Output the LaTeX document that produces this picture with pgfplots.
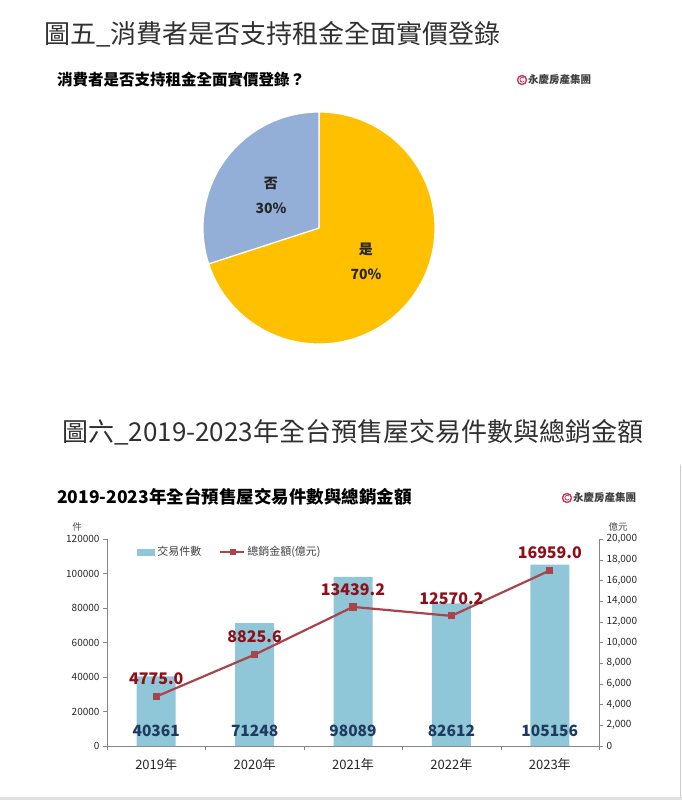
\documentclass[border=0pt]{standalone}
\usepackage{pgfplots}
\pgfplotsset{compat=1.18}
\usepackage{pgfplotstable}
\usepackage{fontspec}
\setmainfont{Noto Sans CJK TC}
\definecolor{pieyellow}{HTML}{FFC000}
\definecolor{pieblue}{HTML}{93AFD7}
\definecolor{barblue}{HTML}{8FC7D8}
\definecolor{linered}{HTML}{A8444A}
\definecolor{lblred}{HTML}{8E0F17}
\definecolor{lblnavy}{HTML}{1F3A5F}
\definecolor{axisgray}{HTML}{868686}
\definecolor{titlegray}{HTML}{303030}
\definecolor{logored}{HTML}{C8385A}

\pgfplotstableread{
x cnt amt amtl
0 40361 4775.0 4775.0
1 71248 8825.6 8825.6
2 98089 13439.2 13439.2
3 82612 12570.2 12570.2
4 105156 16959.0 16959.0
}\sales

\def\pieNo{30}
\def\pieYes{70}

\begin{document}
\begin{tikzpicture}

% ---------- titles ----------
\node[anchor=west, inner sep=0, text=titlegray, font=\fontsize{26}{26}\selectfont] at (44pt,766pt) {圖五\_消費者是否支持租金全面實價登錄};
\node[anchor=west, inner sep=0, text=black, font=\bfseries\fontsize{15.5}{15.5}\selectfont] at (57pt,720pt) {消費者是否支持租金全面實價登錄？};
\draw[logored, line width=1.4pt] (522pt,720pt) circle (4.5pt);
\draw[logored, line width=0.8pt] (524pt,722pt) arc[start angle=45, end angle=315, radius=2.4pt];
\node[anchor=west, inner sep=0, text=black!75, font=\bfseries\fontsize{10.5}{10.5}\selectfont] at (528pt,720pt) {永慶房產集團};

\node[anchor=west, inner sep=0, text=titlegray, font=\fontsize{26}{26}\selectfont] at (62pt,368pt) {圖六\_2019-2023年全台預售屋交易件數與總銷金額};
\node[anchor=west, inner sep=0, text=black, font=\bfseries\fontsize{17.5}{17.5}\selectfont] at (57pt,303pt) {2019-2023年全台預售屋交易件數與總銷金額};
\draw[logored, line width=1.4pt] (567pt,302pt) circle (4.5pt);
\draw[logored, line width=0.8pt] (569pt,304pt) arc[start angle=45, end angle=315, radius=2.4pt];
\node[anchor=west, inner sep=0, text=black!75, font=\bfseries\fontsize{10.5}{10.5}\selectfont] at (573pt,302pt) {永慶房產集團};

% ---------- pie ----------
\pgfmathsetmacro{\aStart}{90}
\pgfmathsetmacro{\aMid}{90+3.6*\pieNo}
\pgfmathsetmacro{\aEnd}{\aMid+3.6*\pieYes}
\begin{axis}[at={(203pt,456pt)}, anchor=south west, scale only axis,
  width=232pt, height=232pt, xmin=-1, xmax=1, ymin=-1, ymax=1, hide axis, clip=false]
  \filldraw[fill=pieyellow, draw=white, line width=1.2pt]
    (axis cs:0,0) -- ([shift={(\aMid:116pt)}]axis cs:0,0)
    arc[start angle=\aMid, end angle=\aEnd, radius=116pt] -- cycle;
  \filldraw[fill=pieblue, draw=white, line width=1.2pt]
    (axis cs:0,0) -- ([shift={(\aStart:116pt)}]axis cs:0,0)
    arc[start angle=\aStart, end angle=\aMid, radius=116pt] -- cycle;
  \node[align=center, text=black!85, font=\bfseries\fontsize{14}{25}\selectfont] at (axis cs:-0.414,0.28) {否\\\pieNo\%};
  \node[align=center, text=black!85, font=\bfseries\fontsize{14}{25}\selectfont] at (axis cs:0.405,-0.29) {是\\\pieYes\%};
\end{axis}

% ---------- bar + line chart ----------
\node[text=black!70, font=\fontsize{9.5}{9.5}\selectfont] at (77pt,273pt) {件};
\node[text=black!70, font=\fontsize{9.5}{9.5}\selectfont] at (618pt,273pt) {億元};

\begin{axis}[at={(107pt,54pt)}, anchor=south west, scale only axis,
  width=492pt, height=207pt,
  xmin=-0.5, xmax=4.5, ymin=0, ymax=120000,
  axis x line*=bottom, axis y line*=left,
  axis line style={draw=axisgray},
  xtick={-0.5,0.5,...,4.5},
  x tick label as interval,
  xticklabels={2019年,2020年,2021年,2022年,2023年},
  ytick={0,20000,...,120000},
  scaled y ticks=false,
  tick align=outside, major tick length=4pt,
  tick style={draw=axisgray},
  /pgf/number format/fixed,
  /pgf/number format/assume math mode=true,
  /pgf/number format/1000 sep={},
  y tick label style={font=\fontsize{10}{10}\selectfont, text=black!85},
  x tick label style={font=\fontsize{13}{13}\selectfont, text=black!85, yshift=-5pt},
  legend style={at={(0.055,0.937)}, anchor=west, draw=none, fill=none,
    font=\fontsize{11}{11}\selectfont, text=black!75,
    /tikz/every even column/.append style={column sep=16pt}},
  legend columns=2,
  clip=false]
  \addplot[ybar, bar width=39pt, fill=barblue, draw=none,
    legend image code/.code={\fill[barblue] (0pt,-3.5pt) rectangle (18pt,3.5pt);}]
    table[x=x, y=cnt] {\sales};
  \addlegendentry{交易件數}
  \addlegendimage{legend image code/.code={\draw[linered, line width=2pt] (0pt,0pt)--(24pt,0pt); \fill[linered] (9.5pt,-2.5pt) rectangle (14.5pt,2.5pt);}}
  \addlegendentry{總銷金額(億元)}
  \addplot[draw=none, mark=none, forget plot, nodes near coords,
    point meta=explicit symbolic,
    nodes near coords style={anchor=center, yshift=15pt, text=lblnavy,
      font=\bfseries\fontsize{15.5}{15.5}\selectfont}]
    table[x=x, y expr=0, meta=cnt] {\sales};
\end{axis}

\begin{axis}[at={(107pt,54pt)}, anchor=south west, scale only axis,
  width=492pt, height=207pt,
  xmin=-0.5, xmax=4.5, ymin=0, ymax=20000,
  axis x line=none, axis y line*=right,
  axis line style={draw=axisgray},
  ytick={0,2000,...,20000},
  scaled y ticks=false,
  tick align=outside, major tick length=4pt,
  tick style={draw=axisgray},
  /pgf/number format/fixed,
  /pgf/number format/assume math mode=true,
  /pgf/number format/1000 sep={,},
  y tick label style={font=\fontsize{10}{10}\selectfont, text=black!85},
  clip=false]
  \addplot[color=linered, line width=2.2pt, mark=square*, mark size=2.5pt,
    mark options={fill=linered, draw=linered},
    nodes near coords, point meta=explicit symbolic,
    nodes near coords style={anchor=south, yshift=7pt, text=lblred,
      font=\bfseries\fontsize{16}{16}\selectfont}]
    table[x=x, y=amt, meta=amtl] {\sales};
\end{axis}

% frame of the lower chart image
\draw[black!20, line width=1pt] (680.5pt,335pt) -- (680.5pt,2pt);
\fill[black!12] (0pt,0pt) rectangle (682pt,3pt);
\path (0pt,0pt) rectangle (682pt,800pt);
\end{tikzpicture}
\end{document}
